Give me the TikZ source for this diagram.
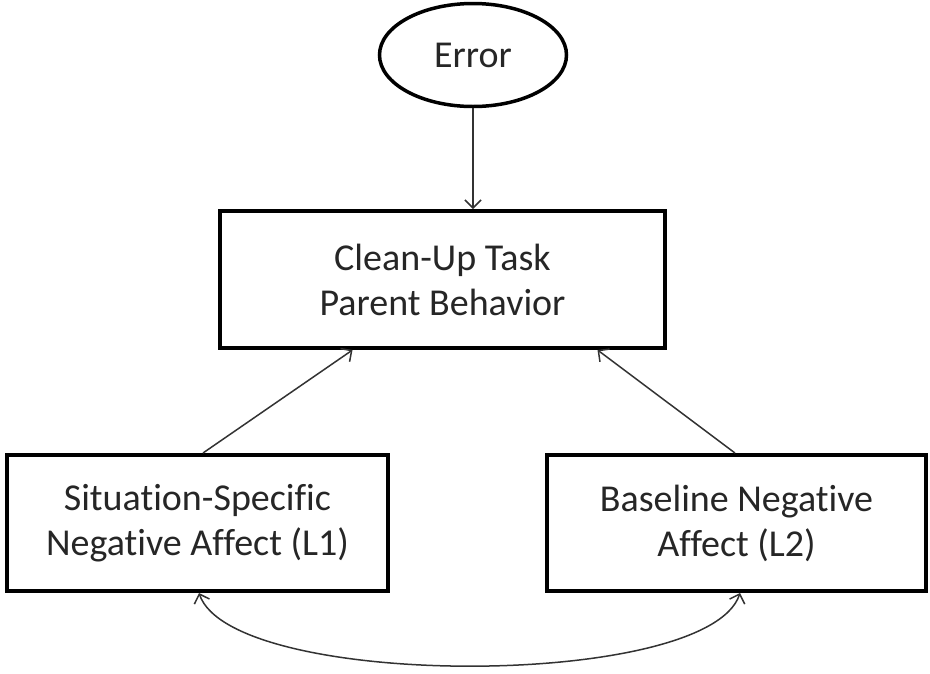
\documentclass[tikz,border=0pt]{standalone}
\usepackage{fontspec}
\setmainfont{Carlito}[Ligatures=NoCommon]
\usetikzlibrary{arrows.meta,shapes.geometric}
\begin{document}
\begin{tikzpicture}[x=1pt,y=-1pt,
  every node/.style={font=\fontsize{38}{45}\selectfont, align=center, text=black!85},
  box/.style={draw=black, line width=4pt, rectangle, inner sep=0pt},
  oval/.style={draw=black, line width=3.5pt, ellipse, inner sep=0pt, minimum width=187pt, minimum height=103pt},
  conn/.style={draw=black!80, line width=1.5pt, -{Straight Barb[length=8pt,width=16pt,line width=1.5pt]}},
  biconn/.style={draw=black!80, line width=1.5pt, {Straight Barb[length=8pt,width=16pt,line width=1.5pt]}-{Straight Barb[length=8pt,width=16pt,line width=1.5pt]}}
]
\useasboundingbox (0,0) rectangle (930,673);
\node[oval] (E) at (473,55) {Error};
\node[box, minimum width=445pt, minimum height=137pt] (T) at (442.5,279.5) {Clean-Up Task\\Parent Behavior};
\node[box, minimum width=381pt, minimum height=136pt] (L) at (197.5,523) {Situation-Specific\\Negative Affect (L1)};
\node[box, minimum width=379pt, minimum height=136pt] (R) at (736.5,523) {Baseline Negative\\Affect (L2)};
\draw[conn] (E.south) -- (E.south |- T.north);
\draw[conn] ([xshift=5.5pt]L.north) -- ([xshift=-90pt]T.south);
\draw[conn] ([xshift=-1.5pt]R.north) -- ([xshift=155pt]T.south);
\draw[biconn] ([xshift=1.5pt]L.south) .. controls (232,690) and (708,690) .. ([xshift=3.5pt]R.south);
\end{tikzpicture}
\end{document}
